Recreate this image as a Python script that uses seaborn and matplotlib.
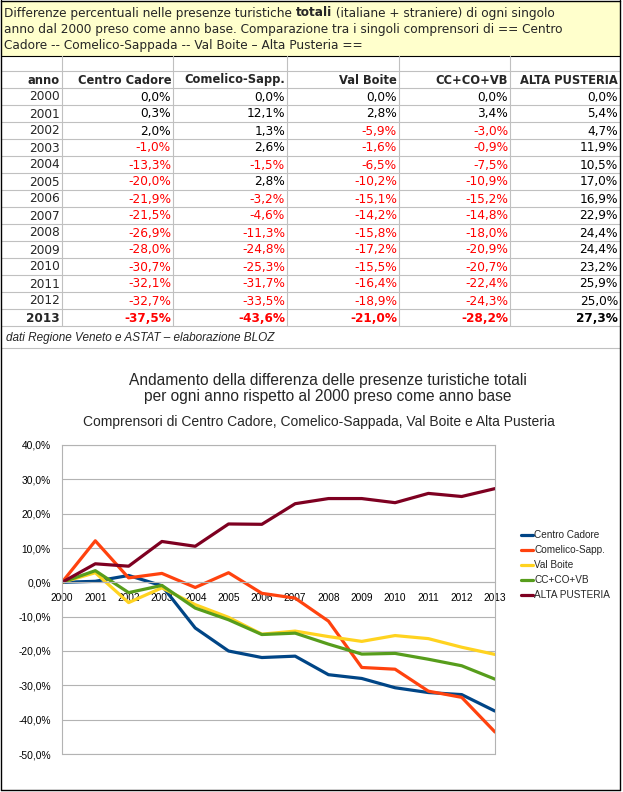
import matplotlib
matplotlib.use("Agg")
import matplotlib.pyplot as plt
from matplotlib.patches import Rectangle
import seaborn as sns
import pandas as pd

# ---------------- data ----------------
years = [2000, 2001, 2002, 2003, 2004, 2005, 2006, 2007, 2008, 2009, 2010, 2011, 2012, 2013]
centro_cadore = [0.0, 0.3, 2.0, -1.0, -13.3, -20.0, -21.9, -21.5, -26.9, -28.0, -30.7, -32.1, -32.7, -37.5]
comelico_sapp = [0.0, 12.1, 1.3, 2.6, -1.5, 2.8, -3.2, -4.6, -11.3, -24.8, -25.3, -31.7, -33.5, -43.6]
val_boite = [0.0, 2.8, -5.9, -1.6, -6.5, -10.2, -15.1, -14.2, -15.8, -17.2, -15.5, -16.4, -18.9, -21.0]
cc_co_vb = [0.0, 3.4, -3.0, -0.9, -7.5, -10.9, -15.2, -14.8, -18.0, -20.9, -20.7, -22.4, -24.3, -28.2]
alta_pusteria = [0.0, 5.4, 4.7, 11.9, 10.5, 17.0, 16.9, 22.9, 24.4, 24.4, 23.2, 25.9, 25.0, 27.3]
series_names = ["Centro Cadore", "Comelico-Sapp.", "Val Boite", "CC+CO+VB", "ALTA PUSTERIA"]
series_values = [centro_cadore, comelico_sapp, val_boite, cc_co_vb, alta_pusteria]
colors = ["#004586", "#ff420e", "#ffd320", "#579d1c", "#7e0021"]
y_ticks = [-50, -40, -30, -20, -10, 0, 10, 20, 30, 40]

header_lines = [
    ["Differenze percentuali nelle presenze turistiche ", "totali", " (italiane + straniere) di ogni singolo"],
    ["anno dal 2000 preso come anno base. Comparazione tra i singoli comprensori di == Centro"],
    ["Cadore -- Comelico-Sappada -- Val Boite \u2013 Alta Pusteria =="],
]
source_text = "dati Regione Veneto e ASTAT \u2013 elaborazione BLOZ"
chart_title = ["Andamento della differenza delle presenze turistiche totali",
               "per ogni anno rispetto al 2000 preso come anno base"]
chart_subtitle = "Comprensori di Centro Cadore, Comelico-Sappada, Val Boite e Alta Pusteria"


def pct(v):
    return f"{v:.1f}%".replace(".", ",")


sns.set_style("white")
plt.rcParams["font.family"] = ["DejaVu Sans"]

W, H = 623, 792
fig = plt.figure(figsize=(W / 100, H / 100), dpi=100)
bg = fig.add_axes([0, 0, 1, 1])
bg.set_xlim(0, W)
bg.set_ylim(H, 0)
bg.axis("off")

# header box
bg.add_patch(Rectangle((1, 0.5), 619, 55.5, facecolor="#ffffcc", edgecolor="none", zorder=0))
renderer = fig.canvas.get_renderer()
line_y = [13, 30, 46]
for ly, parts in zip(line_y, header_lines):
    x = 4
    for i, part in enumerate(parts):
        weight = "bold" if part == "totali" else "normal"
        t = bg.text(x, ly, part, fontsize=8.7, fontweight=weight, va="center", ha="left")
        bb = t.get_window_extent(renderer=renderer)
        x += bb.width

# table grid
grey = "#c0c0c0"
col_edges = [1, 62, 173, 287, 399, 510, 620]
row_top = 71
row_h = 17
bg.plot([1, 620], [56, 56], color="black", lw=0.8)
bg.plot([1, 620], [row_top, row_top], color=grey, lw=0.8)
for i in range(15):
    y = 88 + row_h * i
    bg.plot([1, 620], [y, y], color=grey, lw=0.8)
bg.plot([1, 620], [348, 348], color=grey, lw=0.8)
for x in col_edges[1:-1]:
    bg.plot([x, x], [56, 326], color=grey, lw=0.8)

# table header
hdr = ["anno"] + series_names
hy = (71 + 88) / 2
for j, h in enumerate(hdr):
    bg.text(col_edges[j + 1] - 2, hy + 0.5, h, fontsize=8.3, fontweight="bold", ha="right", va="center")

# table rows
for i, yr in enumerate(years):
    cy = 88 + row_h * i + row_h / 2 + 0.5
    last = (i == len(years) - 1)
    w = "bold" if last else "normal"
    bg.text(col_edges[1] - 2, cy, str(yr), fontsize=8.7, fontweight=w, ha="right", va="center")
    for j, vals in enumerate(series_values):
        v = vals[i]
        c = "#ff0000" if v < 0 else "black"
        bg.text(col_edges[j + 2] - 2, cy, pct(v), fontsize=8.7, fontweight=w, color=c,
                ha="right", va="center")

bg.text(6, 338, source_text, fontsize=8.5, style="italic", family="Liberation Sans",
        ha="left", va="center")

# outer border
bg.plot([1, 1], [0, 790], color="black", lw=1)
bg.plot([620, 620], [0, 790], color="black", lw=1)
bg.plot([1, 620], [790, 790], color="black", lw=1)
bg.plot([1, 620], [0.5, 0.5], color="black", lw=1)

# chart titles
bg.text(328, 380, chart_title[0], fontsize=11.2, family="Liberation Sans", ha="center", va="center")
bg.text(328, 397, chart_title[1], fontsize=11.2, family="Liberation Sans", ha="center", va="center")
bg.text(319, 422, chart_subtitle, fontsize=10.0, family="Liberation Sans", ha="center", va="center")

# ---------------- chart ----------------
ax = fig.add_axes([62 / W, 1 - 754 / H, 433 / W, 309 / H])
df = pd.DataFrame({
    "anno": years * len(series_names),
    "valore": sum(series_values, []),
    "serie": sum([[n] * len(years) for n in series_names], []),
})
sns.lineplot(data=df, x="anno", y="valore", hue="serie", hue_order=series_names,
             palette=colors, linewidth=2.3, ax=ax, legend=False)
gcol = "#b3b3b3"
for s in ["left", "right", "top", "bottom"]:
    ax.spines[s].set_color(gcol)
    ax.spines[s].set_linewidth(0.8)
ax.spines["bottom"].set_position(("data", 0))
ax.set_xlim(2000, 2013)
ax.set_ylim(-50, 40)
ax.set_xlabel("")
ax.set_ylabel("")
ax.set_yticks(y_ticks)
ax.set_yticklabels([pct(v) for v in y_ticks])
ax.set_xticks(years)
ax.set_xticklabels([str(y) for y in years])
ax.yaxis.grid(True, color=gcol, linewidth=0.8)
ax.xaxis.grid(False)
ax.set_axisbelow(True)
ax.axhline(-50, color=gcol, lw=0.8, clip_on=False, zorder=0)
ax.tick_params(axis="both", direction="out", length=4, color=gcol, width=0.8, labelcolor="black")
ax.tick_params(axis="x", pad=3.5, labelsize=7.3)
ax.tick_params(axis="y", pad=4, labelsize=7.4)
for lab in ax.get_xticklabels() + ax.get_yticklabels():
    lab.set_fontfamily("Liberation Sans")

handles = ax.lines[:len(series_names)]
leg = fig.legend(handles, series_names, loc="upper left", bbox_to_anchor=(521 / W, 1 - 530 / H),
                 frameon=False, borderpad=0, borderaxespad=0, handlelength=1.15,
                 handletextpad=0.2, labelspacing=0.5,
                 prop={"family": "Liberation Sans", "size": 7.2})
for lh in leg.get_lines():
    lh.set_linewidth(2.3)

fig.savefig("out.png", dpi=100)
